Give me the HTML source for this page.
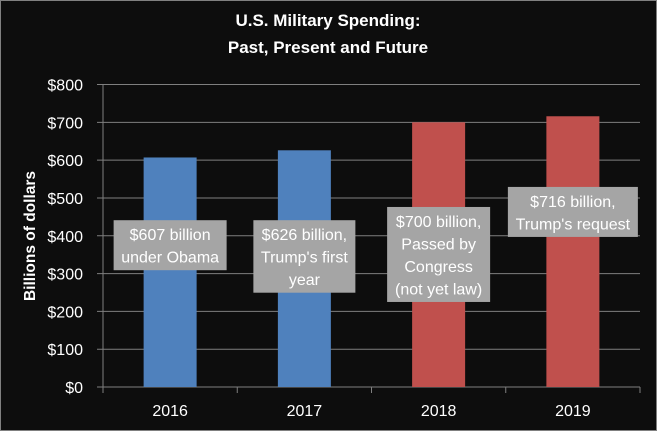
<!DOCTYPE html>
<html><head><meta charset="utf-8"><style>
body{margin:0;background:#0d0d0d}
svg{display:block;font-family:"Liberation Sans",sans-serif}
</style></head><body>
<svg id="c" width="657" height="431" xmlns="http://www.w3.org/2000/svg">
<rect x="0.5" y="0.5" width="656" height="430" fill="#0d0d0d" stroke="#808080"/>
<text x="328" y="26" fill="#fff" font-size="17" font-weight="bold" text-anchor="middle">U.S. Military Spending:</text>
<text x="328" y="53" fill="#fff" font-size="17" font-weight="bold" text-anchor="middle">Past, Present and Future</text>
<text transform="translate(35,236) rotate(-90)" fill="#fff" font-size="15.5" font-weight="bold" text-anchor="middle">Billions of dollars</text>
<g id="g"></g>
</svg>
<script>
const categories=["2016","2017","2018","2019"];
const values=[607,626,700,716];
const colors=["#4f81bd","#4f81bd","#c0504d","#c0504d"];
const yTicks=[0,100,200,300,400,500,600,700,800];
const labels=[["$607 billion","under Obama"],["$626 billion,","Trump's first","year"],["$700 billion,","Passed by","Congress","(not yet law)"],["$716 billion,","Trump's request"]];
const labelVals=[375,375,410,463];
const labelW=[113,102,103,130];
const X0=103,X1=640,Y0=387,Y1=84.5;
const y=v=>Y0-(v-0)/800*(Y0-Y1);
const cw=(X1-X0)/categories.length;
const xc=i=>X0+cw*(i+0.5);
const NS="http://www.w3.org/2000/svg";
const g=document.getElementById('g');
function mk(t,a,p){const e=document.createElementNS(NS,t);for(const k in a)e.setAttribute(k,a[k]);(p||g).appendChild(e);return e;}
yTicks.forEach(t=>{
 const l=mk('line',{x1:X0-6,x2:X1,y1:y(t),y2:y(t),stroke:'#7f7f7f','stroke-width':1});
 
 
 const tx=mk('text',{x:83,y:y(t)+6,fill:'#fff','font-size':16,'text-anchor':'end'});
 tx.textContent='$'+t;
 
 
});
const ax=mk('line',{x1:X0,x2:X0,y1:Y1,y2:Y0,stroke:'#7f7f7f'});


for(let i=0;i<=categories.length;i++){
 const t=mk('line',{x1:X0+cw*i,x2:X0+cw*i,y1:Y0,y2:Y0+6,stroke:'#7f7f7f'});
 
 
}
const bw=53;
categories.forEach((c,i)=>{
 const b=mk('rect',{x:xc(i)-bw/2,y:y(values[i]),width:bw,height:Y0-y(values[i]),fill:colors[i]});
 
 
 const tx=mk('text',{x:xc(i),y:416,fill:'#fff','font-size':16,'text-anchor':'middle'});
 tx.textContent=c;
 
 
});
labels.forEach((ls,i)=>{
 const h=ls.length*22.5+5;
 const cy=y(labelVals[i]);
 const top=cy-25;
 const r=mk('rect',{x:xc(i)-labelW[i]/2,y:top,width:labelW[i],height:h,fill:'#a5a5a5'});
 
 
 ls.forEach((s,j)=>{
  const t=mk('text',{x:xc(i),y:top+20+j*22.5,fill:'#fff','font-size':16,'text-anchor':'middle'});
  t.textContent=s;
  
  
 });
});
</script>
</body></html>
